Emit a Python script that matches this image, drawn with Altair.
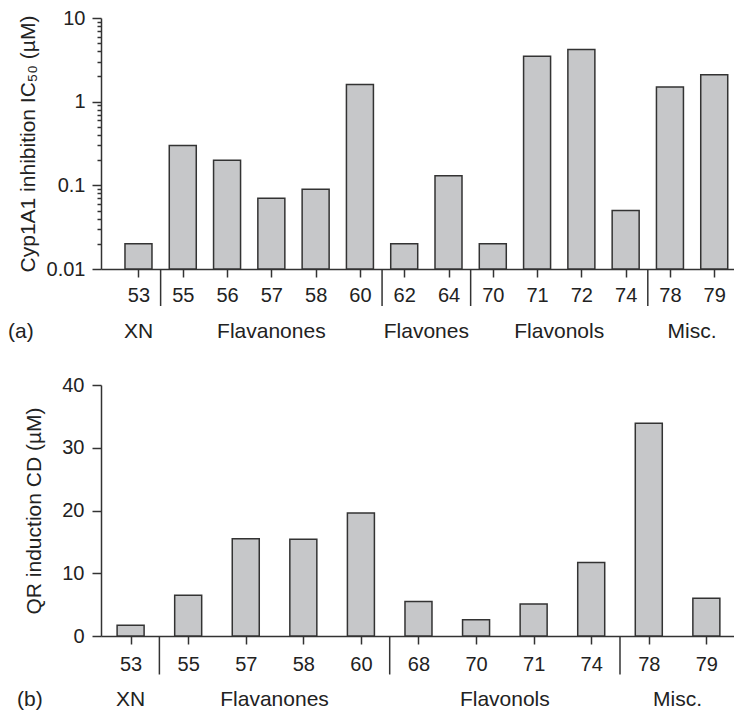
import altair as alt
import pandas as pd

# ---------------- data ----------------
# panel (a): Cyp1A1 inhibition IC50 (uM), log scale
a_ids = ["53", "55", "56", "57", "58", "60", "62", "64", "70", "71", "72", "74", "78", "79"]
a_vals = [0.02, 0.3, 0.2, 0.07, 0.09, 1.6, 0.02, 0.13, 0.02, 3.5, 4.2, 0.05, 1.5, 2.1]
a_group = [0, 1, 1, 1, 1, 1, 2, 2, 3, 3, 3, 3, 4, 4]
a_group_names = ["XN", "Flavanones", "Flavones", "Flavonols", "Misc."]
a_yticks = [0.01, 0.1, 1, 10]
a_yminor = [m * 10.0 ** e for e in (-2, -1, 0) for m in range(2, 10)]

# panel (b): QR induction CD (uM)
b_ids = ["53", "55", "57", "58", "60", "68", "70", "71", "74", "78", "79"]
b_vals = [1.7, 6.5, 15.5, 15.4, 19.6, 5.5, 2.6, 5.1, 11.7, 33.9, 6.0]
b_group = [0, 1, 1, 1, 1, 2, 2, 2, 2, 3, 3]
b_group_names = ["XN", "Flavanones", "Flavonols", "Misc."]
b_yticks = [0, 10, 20, 30, 40]

# ---------------- style ----------------
W, H = 633, 251
FONT = "Liberation Sans"
TXT = "#222222"
LINE = "#333333"
FILL = "#c6c7c9"
FS = 20
GFS = 21


def bars_df(ids, vals):
    return pd.DataFrame({"idx": list(range(len(ids))), "id": ids, "val": vals})


def seps_df(groups):
    return pd.DataFrame({"pos": [i + 0.5 for i in range(len(groups) - 1) if groups[i] != groups[i + 1]]})


def grp_df(groups, names):
    centers = []
    for g in range(len(names)):
        members = [i for i, gg in enumerate(groups) if gg == g]
        centers.append(sum(members) / len(members))
    return pd.DataFrame({"center": centers, "name": names})


def label_expr(ids):
    return "[" + ",".join("'%s'" % s for s in ids) + "][datum.value]"


def panel(ids, vals, groups, names, tag, xscale, yscale, yaxis, ybase,
          x_label_pad, sep_len, grp_dy, tag_x):
    dfb = bars_df(ids, vals)
    xaxis = alt.Axis(values=list(range(len(ids))), labelExpr=label_expr(ids), title=None,
                     grid=False, tickSize=8, tickWidth=1.5, tickColor=LINE,
                     domainColor=LINE, domainWidth=1.5, labelPadding=x_label_pad,
                     labelFontSize=FS, labelColor=TXT, labelFont=FONT,
                     labelOverlap=False, labelFlush=False)
    enc = dict(
        x=alt.X("idx:Q", scale=xscale, axis=xaxis),
        y=alt.Y("val:Q", scale=yscale, axis=yaxis),
    )
    if ybase is not None:
        enc["y2"] = alt.datum(ybase)
    bars = alt.Chart(dfb).mark_bar(size=27, fill=FILL, stroke=LINE, strokeWidth=1.5).encode(**enc)
    seps = alt.Chart(seps_df(groups)).mark_rule(color=LINE, strokeWidth=1.5).encode(
        x=alt.X("pos:Q", scale=xscale, axis=xaxis),
        y=alt.value(H), y2=alt.value(H + sep_len),
    )
    grp = alt.Chart(grp_df(groups, names)).mark_text(
        fontSize=GFS, font=FONT, color=TXT, baseline="middle").encode(
        x=alt.X("center:Q", scale=xscale, axis=xaxis),
        y=alt.value(H + grp_dy),
        text="name:N",
    )
    tg = alt.Chart(pd.DataFrame({"t": [tag]})).mark_text(
        fontSize=GFS, font=FONT, color=TXT, baseline="middle", align="left").encode(
        x=alt.value(tag_x), y=alt.value(H + grp_dy), text="t:N",
    )
    return alt.layer(bars, seps, grp, tg).properties(width=W, height=H)


# panel (a)
a_lo = -33 / 45
xa = alt.Scale(domain=[a_lo, a_lo + W / 45], nice=False, zero=False)
ya = alt.Scale(type="log", domain=[a_yticks[0], a_yticks[-1]], nice=False)
major_test = "abs(log(datum.value) / LN10 - round(log(datum.value) / LN10)) < 0.001"
ya_axis = alt.Axis(values=a_yticks + a_yminor, orient="left", grid=False,
                   labelExpr="(%s) ? format(datum.value, '~g') : ''" % major_test,
                   labelOverlap=False,
                   tickSize={"condition": {"test": major_test, "value": 9}, "value": 4},
                   tickWidth=1.5, tickColor=LINE, domainColor=LINE, domainWidth=1.5,
                   labelPadding=7, labelFontSize=FS, labelColor=TXT, labelFont=FONT,
                   title="Cyp1A1 inhibition IC₅₀ (µM)", titleFontSize=21, titleFont=FONT,
                   titleFontWeight="normal", titleColor=TXT, titlePadding=8)
top = panel(a_ids, a_vals, a_group, a_group_names, "(a)", xa, ya, ya_axis, a_yticks[0],
            x_label_pad=8, sep_len=37, grp_dy=63, tag_x=-93)

# panel (b)
b_lo = -25 / 58.5
xb = alt.Scale(domain=[b_lo, b_lo + W / 58.5], nice=False, zero=False)
yb = alt.Scale(domain=[b_yticks[0], b_yticks[-1]], nice=False)
yb_axis = alt.Axis(values=b_yticks, orient="left", grid=False,
                   tickSize=9, tickWidth=1.5, tickColor=LINE, domainColor=LINE, domainWidth=1.5,
                   labelPadding=8, labelFontSize=FS, labelColor=TXT, labelFont=FONT,
                   title="QR induction CD (µM)", titleFontSize=21, titleFont=FONT,
                   titleFontWeight="normal", titleColor=TXT, titlePadding=17)
bottom = panel(b_ids, b_vals, b_group, b_group_names, "(b)", xb, yb, yb_axis, None,
               x_label_pad=10, sep_len=38.5, grp_dy=63.5, tag_x=-84)

chart = alt.vconcat(top, bottom, spacing=33).properties(
    padding={"left": 0, "top": 0, "right": 0, "bottom": 0}
).configure(font=FONT).configure_view(stroke=None)

chart.save("out.html", embed_options={"renderer": "svg", "actions": False})
